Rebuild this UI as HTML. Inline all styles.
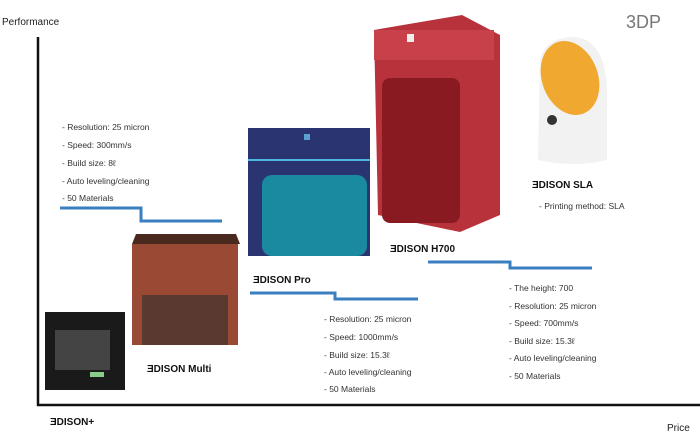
<!DOCTYPE html>
<html><head><meta charset="utf-8"><style>
body{margin:0;width:700px;height:435px;overflow:hidden;background:#fff;position:relative;font-family:"Liberation Sans",sans-serif}
.t{position:absolute;font-size:8.5px;color:#333;white-space:nowrap}
.l{position:absolute;font-size:10px;font-weight:bold;color:#111;white-space:nowrap}
</style></head><body>
<svg width="700" height="435" style="position:absolute;left:0;top:0">
<line x1="38" y1="37" x2="38" y2="406" stroke="#111" stroke-width="2.5"/>
<line x1="37" y1="405" x2="700" y2="405" stroke="#111" stroke-width="2.5"/>
<polyline points="60,208 141,208 141,221 222,221" fill="none" stroke="#3a7fc0" stroke-width="3"/>
<polyline points="250,293 335,293 335,299 418,299" fill="none" stroke="#3a7fc0" stroke-width="3"/>
<polyline points="428,262 510,262 510,268 592,268" fill="none" stroke="#3a7fc0" stroke-width="3"/>
<!-- Edison+ -->
<rect x="45" y="312" width="80" height="78" fill="#1a1a1a"/>
<rect x="55" y="330" width="55" height="40" fill="#444"/>
<rect x="90" y="372" width="14" height="5" fill="#8c8"/>
<!-- Multi -->
<polygon points="132,244 136,234 236,234 240,244" fill="#4a2a1e"/>
<rect x="132" y="244" width="106" height="101" fill="#9a4a34"/>
<rect x="142" y="295" width="86" height="50" fill="#5a3a30"/>
<!-- Pro -->
<rect x="248" y="128" width="122" height="128" fill="#2a3470"/>
<line x1="248" y1="160" x2="370" y2="160" stroke="#4ab8e0" stroke-width="2"/>
<rect x="262" y="175" width="105" height="81" rx="10" fill="#1a8aa0"/>
<rect x="304" y="134" width="6" height="6" fill="#5aa0d0"/>
<!-- H700 -->
<polygon points="374,30 462,15 500,35 500,215 460,232 378,215" fill="#b8323c"/>
<rect x="374" y="30" width="120" height="30" fill="#c8404a"/>
<rect x="382" y="78" width="78" height="145" rx="8" fill="#8a1a22"/>
<rect x="407" y="34" width="7" height="8" fill="#eee"/>
<!-- SLA -->
<path d="M540,60 Q545,37 575,37 Q605,40 607,90 L607,160 Q575,168 538,160 Z" fill="#f2f2f2"/>
<ellipse cx="570" cy="78" rx="28" ry="38" fill="#f0a830" transform="rotate(-20 570 78)"/>
<circle cx="552" cy="120" r="5" fill="#333"/>
</svg>
<div style="position:absolute;left:2px;top:17px;font-size:10px;color:#222">Performance</div>
<div style="position:absolute;left:626px;top:12px;font-size:18px;color:#777">3DP</div>
<div style="position:absolute;left:667px;top:423px;font-size:10px;color:#222">Price</div>
<div class="t" style="left:62px;top:122px">- Resolution: 25 micron</div>
<div class="t" style="left:62px;top:140px">- Speed: 300mm/s</div>
<div class="t" style="left:62px;top:158px">- Build size: 8ℓ</div>
<div class="t" style="left:62px;top:176px">- Auto leveling/cleaning</div>
<div class="t" style="left:62px;top:193px">- 50 Materials</div>
<div class="t" style="left:324px;top:314px">- Resolution: 25 micron</div>
<div class="t" style="left:324px;top:332px">- Speed: 1000mm/s</div>
<div class="t" style="left:324px;top:350px">- Build size: 15.3ℓ</div>
<div class="t" style="left:324px;top:367px">- Auto leveling/cleaning</div>
<div class="t" style="left:324px;top:384px">- 50 Materials</div>
<div class="t" style="left:509px;top:283px">- The height: 700</div>
<div class="t" style="left:509px;top:301px">- Resolution: 25 micron</div>
<div class="t" style="left:509px;top:318px">- Speed: 700mm/s</div>
<div class="t" style="left:509px;top:336px">- Build size: 15.3ℓ</div>
<div class="t" style="left:509px;top:353px">- Auto leveling/cleaning</div>
<div class="t" style="left:509px;top:371px">- 50 Materials</div>
<div class="t" style="left:539px;top:201px">- Printing method: SLA</div>
<div class="l" style="left:147px;top:364px">ƎDISON Multi</div>
<div class="l" style="left:253px;top:275px">ƎDISON Pro</div>
<div class="l" style="left:390px;top:244px">ƎDISON H700</div>
<div class="l" style="left:532px;top:180px">ƎDISON SLA</div>
<div class="l" style="left:50px;top:417px">ƎDISON+</div>
</body></html>
